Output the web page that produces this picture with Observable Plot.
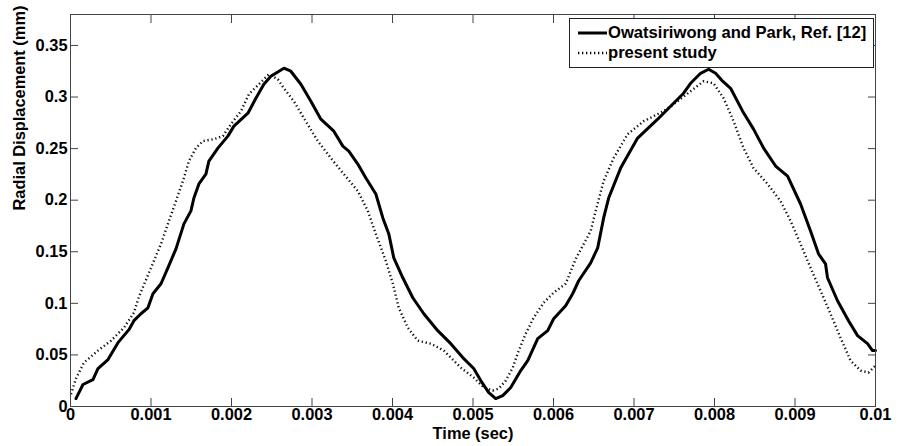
<!DOCTYPE html>
<html>
<head>
<meta charset="utf-8">
<script src="https://cdn.jsdelivr.net/npm/d3@7"></script>
<script src="https://cdn.jsdelivr.net/npm/@observablehq/plot@0.6"></script>
<style>
  body { margin: 0; background: #fff; }
  #wrap { position: relative; width: 901px; height: 446px; font-family: "Liberation Sans", Arial, sans-serif; }
  #legend { position: absolute; left: 569px; top: 18px; width: 303px; height: 48px; border: 1px solid #222; background: #fff; font-weight: bold; font-size: 16.6px; }
  #legend .row { position: absolute; left: 0; height: 20px; display: flex; align-items: center; }
  #legend svg { display: block; }
</style>
</head>
<body>
<div id="wrap"></div>
<script>
const refTime = [0.000068,0.000155,0.000279,0.000341,0.000466,0.000590,0.000726,0.000788,0.000875,0.000962,
  0.001024,0.001124,0.001210,0.001310,0.001409,0.001496,0.001533,0.001595,0.001682,0.001719,
  0.001831,0.001955,0.002030,0.002204,0.002303,0.002402,0.002489,0.002651,0.002737,0.002862,
  0.002986,0.003110,0.003271,0.003383,0.003457,0.003569,0.003669,0.003793,0.003880,0.003954,
  0.004016,0.004128,0.004252,0.004389,0.004562,0.004724,0.004873,0.005009,0.005096,0.005196,
  0.005282,0.005369,0.005469,0.005593,0.005680,0.005804,0.005928,0.006002,0.006151,0.006238,
  0.006313,0.006462,0.006549,0.006623,0.006685,0.006834,0.007045,0.007294,0.007455,0.007616,
  0.007703,0.007827,0.007927,0.008014,0.008101,0.008200,0.008349,0.008485,0.008610,0.008759,
  0.008908,0.009069,0.009193,0.009292,0.009379,0.009404,0.009528,0.009665,0.009777,0.009901,
  0.009963,0.010000];
const refDisp = [0.0077,0.0213,0.0261,0.0368,0.0455,0.0619,0.0745,0.0832,0.0899,0.0957,
  0.1093,0.1190,0.1344,0.1528,0.1770,0.1896,0.2021,0.2157,0.2253,0.2379,
  0.2505,0.2621,0.2718,0.2843,0.2988,0.3124,0.3201,0.3279,0.3250,0.3124,
  0.2959,0.2785,0.2669,0.2524,0.2476,0.2350,0.2215,0.2060,0.1828,0.1673,
  0.1441,0.1248,0.1054,0.0899,0.0735,0.0609,0.0474,0.0368,0.0251,0.0135,
  0.0077,0.0106,0.0184,0.0348,0.0445,0.0658,0.0735,0.0851,0.0977,0.1093,
  0.1219,0.1393,0.1538,0.1828,0.2021,0.2311,0.2602,0.2785,0.2911,0.3037,
  0.3133,0.3230,0.3269,0.3230,0.3153,0.3085,0.2863,0.2689,0.2505,0.2331,
  0.2234,0.1963,0.1702,0.1480,0.1383,0.1248,0.1025,0.0832,0.0687,0.0609,
  0.0542,0.0542];

const presTime = [0.000006,0.000068,0.000168,0.000341,0.000503,0.000664,0.000788,0.000850,0.001000,0.001124,
  0.001223,0.001310,0.001397,0.001471,0.001558,0.001645,0.001782,0.001893,0.001993,0.002117,
  0.002216,0.002340,0.002464,0.002576,0.002651,0.002775,0.002899,0.003073,0.003234,0.003395,
  0.003569,0.003693,0.003793,0.003917,0.004004,0.004078,0.004190,0.004314,0.004476,0.004637,
  0.004848,0.005009,0.005133,0.005245,0.005320,0.005407,0.005494,0.005568,0.005655,0.005754,
  0.005878,0.006002,0.006151,0.006276,0.006462,0.006524,0.006623,0.006747,0.006921,0.007120,
  0.007368,0.007492,0.007703,0.007865,0.007989,0.008113,0.008237,0.008361,0.008485,0.008659,
  0.008820,0.008945,0.009069,0.009193,0.009317,0.009441,0.009565,0.009690,0.009814,0.009913,
  0.010000];
const presDisp = [0.0120,0.0271,0.0426,0.0542,0.0638,0.0764,0.0909,0.1064,0.1344,0.1576,
  0.1799,0.1992,0.2186,0.2379,0.2505,0.2573,0.2592,0.2621,0.2737,0.2863,
  0.3027,0.3124,0.3220,0.3172,0.3085,0.2959,0.2795,0.2573,0.2408,0.2253,
  0.2089,0.1896,0.1673,0.1412,0.1190,0.0957,0.0764,0.0638,0.0609,0.0542,
  0.0377,0.0280,0.0184,0.0155,0.0174,0.0251,0.0377,0.0542,0.0706,0.0861,
  0.1006,0.1103,0.1190,0.1430,0.1702,0.1896,0.2186,0.2408,0.2640,0.2766,
  0.2863,0.2930,0.3056,0.3153,0.3133,0.2988,0.2766,0.2505,0.2311,0.2157,
  0.1992,0.1799,0.1576,0.1344,0.1122,0.0899,0.0667,0.0445,0.0348,0.0329,
  0.0397];

const seriesNames = ["Owatsiriwong and Park, Ref. [12]", "present study"];
const xTicks = [0,0.001,0.002,0.003,0.004,0.005,0.006,0.007,0.008,0.009,0.01];
const xTickLabels = ["0","0.001","0.002","0.003","0.004","0.005","0.006","0.007","0.008","0.009","0.01"];
const yTicks = [0,0.05,0.1,0.15,0.2,0.25,0.3,0.35];
const yTickLabels = ["0","0.05","0.1","0.15","0.2","0.25","0.3","0.35"];
const xLabel = "Time (sec)";
const yLabel = "Radial Displacement (mm)";

const refData = refTime.map((t, i) => ({t, v: refDisp[i]}));
const presData = presTime.map((t, i) => ({t, v: presDisp[i]}));

const axisColor = "#444";
const plot = Plot.plot({
  width: 901,
  height: 446,
  marginLeft: 70,
  marginRight: 26,
  marginTop: 14,
  marginBottom: 40,
  style: {fontFamily: '"Liberation Sans", Arial, sans-serif', fontSize: "16.4px", fontWeight: "bold", background: "#fff", color: "#000", overflow: "visible"},
  x: {domain: [0, 0.01]},
  y: {domain: [0, 0.38]},
  marks: [
    Plot.line(presData, {x: "t", y: "v", stroke: "#111", strokeWidth: 2.4, strokeDasharray: "1.3,2.7", strokeLinecap: "butt"}),
    Plot.line(refData, {x: "t", y: "v", stroke: "#000", strokeWidth: 3, strokeLinejoin: "round"}),
    Plot.frame({stroke: axisColor, strokeWidth: 1}),
    Plot.axisX({anchor: "bottom", ticks: xTicks, tickSize: -8, tickPadding: 10, stroke: axisColor, tickFormat: (d, i) => xTickLabels[i], label: null, fill: "#000"}),
    Plot.axisX({anchor: "top", ticks: xTicks, tickSize: -8, tickPadding: 11, stroke: axisColor, tickFormat: () => "", label: null}),
    Plot.axisY({anchor: "left", ticks: yTicks, tickSize: -8, tickPadding: 11, stroke: axisColor, tickFormat: (d, i) => yTickLabels[i], label: null, fill: "#000"}),
    Plot.axisY({anchor: "right", ticks: yTicks, tickSize: -8, tickPadding: 11, stroke: axisColor, tickFormat: () => "", label: null}),
    Plot.text([xLabel], {frameAnchor: "bottom", dy: 32.5, text: d => d, fontWeight: "bold", fontSize: 16.4, fill: "#000"}),
    Plot.text([yLabel], {frameAnchor: "left", dx: -51, rotate: -90, text: d => d, fontWeight: "bold", fontSize: 16.4, fill: "#000"})
  ]
});

const wrap = document.getElementById("wrap");
wrap.appendChild(plot);

const legend = document.createElement("div");
legend.id = "legend";
const styles = [
  {dash: null, w: 3},
  {dash: "1.3,2.7", w: 2.4}
];
seriesNames.forEach((name, i) => {
  const row = document.createElement("div");
  row.className = "row";
  row.style.top = (4 + i * 20) + "px";
  row.innerHTML = `<svg width="38" height="20"><line x1="8" x2="37" y1="10" y2="10" stroke="#000" stroke-width="${styles[i].w}" ${styles[i].dash ? `stroke-dasharray="${styles[i].dash}"` : ""}/></svg><span>${name}</span>`;
  legend.appendChild(row);
});
wrap.appendChild(legend);
</script>
</body>
</html>
